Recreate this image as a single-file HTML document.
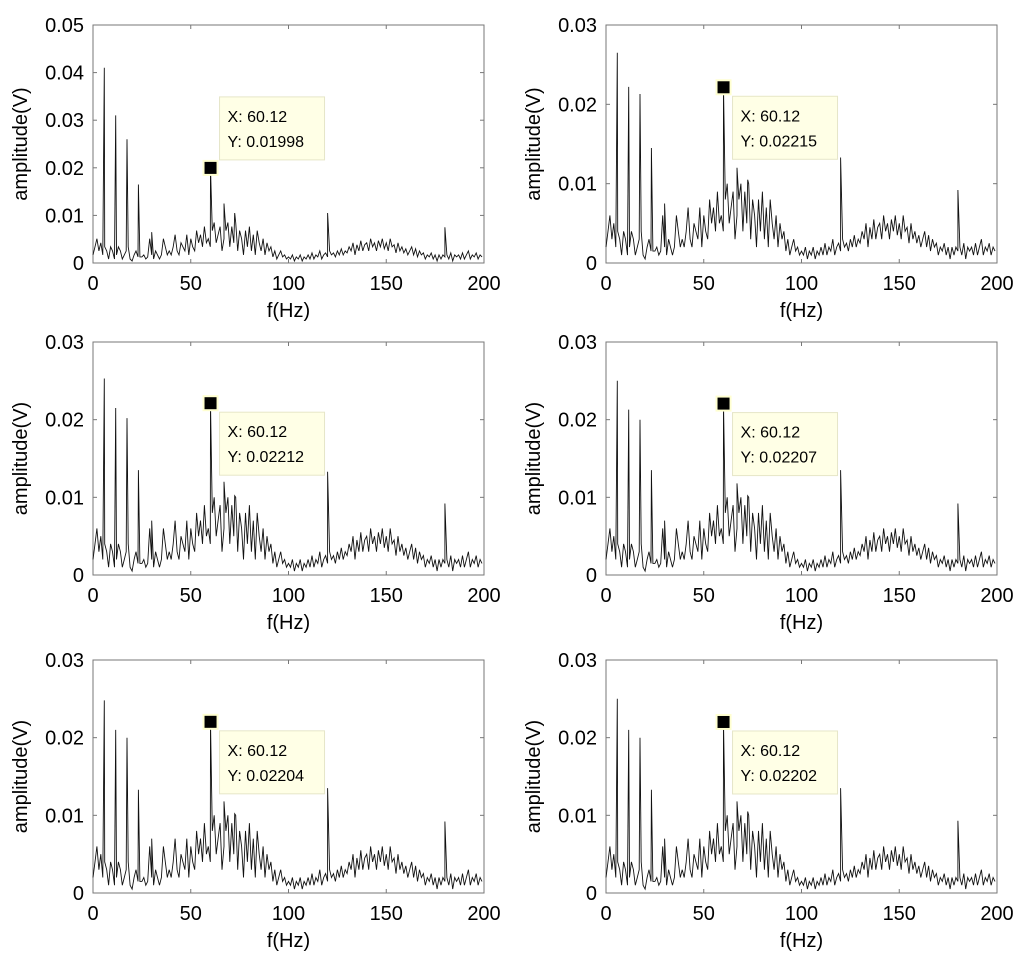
<!DOCTYPE html>
<html><head><meta charset="utf-8">
<style>
html,body{margin:0;padding:0;background:#fff;}
svg{display:block;font-family:"Liberation Sans",Arial,sans-serif;}
</style></head>
<body>
<svg id="fig" width="1024" height="958" viewBox="0 0 1024 958" xmlns="http://www.w3.org/2000/svg"></svg>
<script>
// noise floor (mV) at 1 Hz steps, 0..199 Hz
const noiseMv = [2,4,6,3,5,2,4,3,1,4, 3,1,2,4,3,1,2,3,4,1, 0.5,2,3,1.5,1.5,1.5,2,1,1.5,6,
 2,1,3,2,1,2,6,4,2,3, 2,4,7,3,2,5,4,3,7,2, 6,4,3,8,5,7,4,9,5,6,
 4,8,10,5,7,9,3,6,8,10, 4,9,5,10,3,8,6,2,8,4, 9,3,7,2,8,5,3,6,2,5,
 3,4,1.5,3,1,2,3,1.5,2,1, 1.5,1,2,0.5,1.5,1,2,0.5,1.5,1, 2,1,2.5,1,2,1.5,3,1,2,2.5,
 1.5,3,2,2.5,1.5,3,2,3.5,2,3, 2.5,4,3,5,2,4.5,3,5.5,3,4.5, 5,3,6,4,5,3,5.5,4,6,3.5,
 5,3,6,4,4.5,2.5,5,3,4,2.5, 3.5,2,3,4,2,3.5,1.5,3,2,2.5, 1,2,1.5,2.5,1,2,0.5,2,1,2,
 1.5,2,1,2.5,0.5,2,1.5,2,1,2.5, 1,2,3,1,2,1.5,2.5,1,2,1.5];
// spike frequencies (Hz)
const spikeFreqs = [5.8,11.6,17.4,23.2,30,60.12,67,72.5,120,180];
// spike amplitudes (V) per panel
const spikeAmps1 = [0.041,0.031,0.026,0.0165,0.0065,0.01998,0.0125,0.0105,0.0105,0.0075];
const spikeAmps2 = [0.0265,0.0222,0.0213,0.0145,0.0075,0.02215,0.0120,0.0105,0.0133,0.0092];
const spikeAmps3 = [0.0253,0.0215,0.0202,0.0135,0.0070,0.02212,0.0120,0.0102,0.0133,0.0092];
const spikeAmps4 = [0.0250,0.0213,0.0200,0.0135,0.0070,0.02207,0.0118,0.0102,0.0135,0.0092];
const spikeAmps5 = [0.0248,0.0210,0.0200,0.0133,0.0070,0.02204,0.0118,0.0102,0.0135,0.0092];
const spikeAmps6 = [0.0250,0.0210,0.0200,0.0133,0.0070,0.02202,0.0118,0.0105,0.0135,0.0093];
const noiseScale = [0.85,1,1,1,1,1];
const yMaxes = [0.05,0.03,0.03,0.03,0.03,0.03];
const yTicks1 = ["0","0.01","0.02","0.03","0.04","0.05"];
const yTicks2 = ["0","0.01","0.02","0.03"];
const xTicks = [0,50,100,150,200];
const markerX = [60.12,60.12,60.12,60.12,60.12,60.12];
const markerY = ["0.01998","0.02215","0.02212","0.02207","0.02204","0.02202"];

const NS="http://www.w3.org/2000/svg";
const svg=document.getElementById('fig');
function mk(tag,attrs,parent){const e=document.createElementNS(NS,tag);for(const k in attrs)e.setAttribute(k,attrs[k]);(parent||svg).appendChild(e);return e;}

const panels=[
 {ox:93,oy:25,w:391,h:238},{ox:606,oy:25,w:391,h:238},
 {ox:93,oy:342,w:391,h:233},{ox:606,oy:342,w:391,h:233},
 {ox:93,oy:660,w:391,h:233},{ox:606,oy:660,w:391,h:233}];
const allSpikes=[spikeAmps1,spikeAmps2,spikeAmps3,spikeAmps4,spikeAmps5,spikeAmps6];

panels.forEach((p,i)=>{
  const g=mk('g',{});
  
  
  const ymax=yMaxes[i];
  const xs=f=>p.ox+f/200*p.w;
  const ys=v=>p.oy+p.h-v/ymax*p.h;
  const yt=i===0?yTicks1:yTicks2;
  const box=mk('rect',{x:p.ox,y:p.oy,width:p.w,height:p.h,fill:'none',stroke:'#777','stroke-width':1},g);
  
  
  yt.forEach(t=>{
    const v=parseFloat(t);const y=ys(v);
    mk('line',{x1:p.ox,x2:p.ox+4,y1:y,y2:y,stroke:'#777'},g);
    mk('line',{x1:p.ox+p.w-4,x2:p.ox+p.w,y1:y,y2:y,stroke:'#777'},g);
    const tx=mk('text',{x:p.ox-9,y:y+7,'text-anchor':'end','font-size':20,fill:'#000'},g);
    tx.textContent=t;
    
    
  });
  xTicks.forEach(t=>{
    const x=xs(t);
    mk('line',{x1:x,x2:x,y1:p.oy+p.h,y2:p.oy+p.h-4,stroke:'#777'},g);
    mk('line',{x1:x,x2:x,y1:p.oy,y2:p.oy+4,stroke:'#777'},g);
    const tx=mk('text',{x:x,y:p.oy+p.h+27,'text-anchor':'middle','font-size':20,fill:'#000'},g);
    tx.textContent=String(t);
    
    
  });
  const xl=mk('text',{x:p.ox+p.w/2,y:p.oy+p.h+54,'text-anchor':'middle','font-size':20,fill:'#000'},g);
  xl.textContent='f(Hz)';
  
  
  const cy=p.oy+p.h/2;
  const yl=mk('text',{x:0,y:0,'text-anchor':'middle','font-size':20,fill:'#000',transform:`translate(${p.ox-66},${cy}) rotate(-90)`},g);
  yl.textContent='amplitude(V)';
  
  
  const pts=[];
  const sp=allSpikes[i];
  for(let f=0;f<noiseMv.length;f++){
    pts.push([f,noiseMv[f]*0.001*noiseScale[i]]);
  }
  spikeFreqs.forEach((f,k)=>{pts.push([f,sp[k]]);});
  pts.sort((a,b)=>a[0]-b[0]);
  const d=pts.map((q,k)=>(k?'L':'M')+xs(q[0]).toFixed(1)+','+ys(q[1]).toFixed(1)).join('');
  const line=mk('path',{d:d,fill:'none',stroke:'#111','stroke-width':0.9,'stroke-linejoin':'miter'},g);
  
  
  const mv=parseFloat(markerY[i]);
  const mx=xs(markerX[i]), my=ys(mv);
  const halo=mk('rect',{x:mx-8,y:my-8,width:16,height:16,fill:'#ffffd0'},g);
  
  
  const m=mk('rect',{x:mx-6,y:my-6,width:12,height:12,fill:'#000'},g);
  
  
  const bx=mx+9, by=i===0?my-71:my+9;
  const tip=mk('rect',{x:bx,y:by,width:105,height:63,fill:'#ffffe6',stroke:'#e6e6c8','stroke-width':1},g);
  
  
  const t1=mk('text',{x:bx+8,y:by+25,'font-size':16,fill:'#000'},g);
  t1.textContent='X: '+markerX[i].toFixed(2);
  
  
  const t2=mk('text',{x:bx+8,y:by+50,'font-size':16,fill:'#000'},g);
  t2.textContent='Y: '+markerY[i];
  
  
});
</script>
</body></html>
